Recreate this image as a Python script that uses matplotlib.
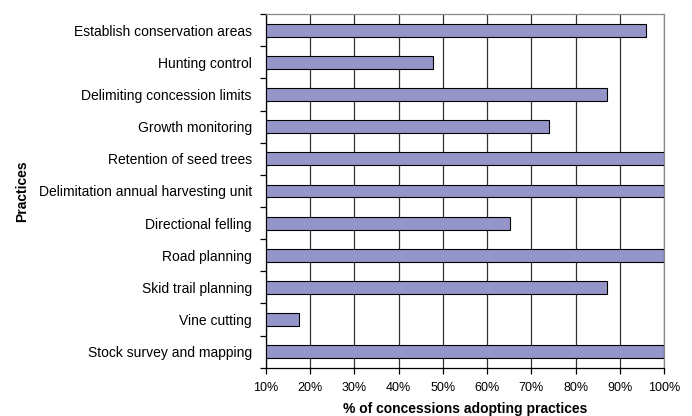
import matplotlib
matplotlib.use("Agg")
import matplotlib.pyplot as plt
from matplotlib.ticker import FixedLocator, PercentFormatter

plt.rcParams["font.family"] = ["Liberation Sans", "DejaVu Sans"]

practices = ["Establish conservation areas", "Hunting control", "Delimiting concession limits",
             "Growth monitoring", "Retention of seed trees", "Delimitation annual harvesting unit",
             "Directional felling", "Road planning", "Skid trail planning", "Vine cutting",
             "Stock survey and mapping"]
adoption = [95.8, 47.8, 87.1, 74.0, 100, 100, 65.2, 100, 87.1, 17.4, 100]
x_ticks = [10, 20, 30, 40, 50, 60, 70, 80, 90, 100]

BASE = 10
fig = plt.figure(figsize=(6.92, 4.16), dpi=100)
ax = fig.add_axes([0.384, 0.116, 0.576, 0.850])

ypos = list(range(len(practices)))[::-1]
ax.barh(ypos, [v - BASE for v in adoption], left=BASE, height=0.4,
        color="#9595c9", edgecolor="black", linewidth=0.8, zorder=3)

ax.set_xlim(10, 100)
ax.set_ylim(-0.5, len(practices) - 0.5)
ax.xaxis.set_major_locator(FixedLocator(x_ticks))
ax.xaxis.set_major_formatter(PercentFormatter(decimals=0))
ax.grid(axis="x", color="#333333", lw=0.9, zorder=0)

ax.set_yticks(ypos)
ax.set_yticklabels(practices, fontsize=10)
ax.tick_params(axis="y", length=0, pad=10)
ax.set_yticks([y + 0.5 for y in range(-1, len(practices))], minor=True)
ax.tick_params(axis="y", which="minor", length=4, width=0.9)
ax.tick_params(axis="x", labelsize=9, length=4, width=0.9, pad=6)

for s in ("top", "right"):
    ax.spines[s].set_color("#888888")
    ax.spines[s].set_linewidth(0.9)
for s in ("left", "bottom"):
    ax.spines[s].set_linewidth(0.9)

ax.set_xlabel("% of concessions adopting practices", fontsize=10, fontweight="bold", labelpad=6)
fig.text(0.032, 0.54, "Practices", rotation=90, fontsize=10, fontweight="bold",
         ha="center", va="center")

fig.savefig("out.png", dpi=100)
